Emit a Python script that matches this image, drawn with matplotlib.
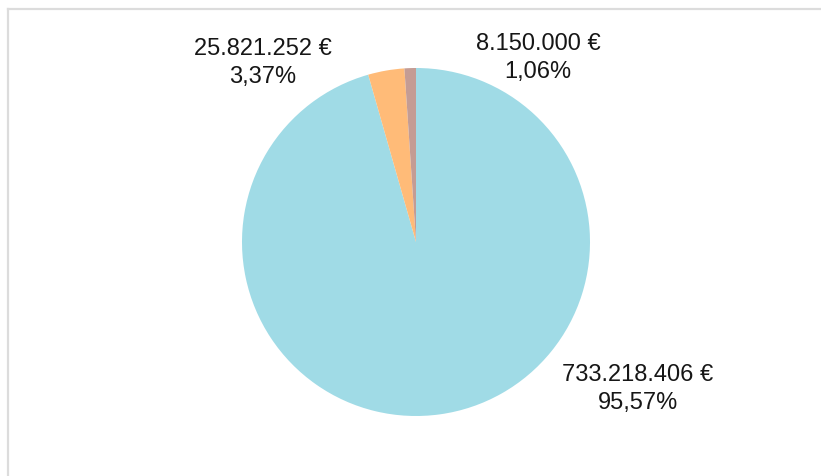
import matplotlib
matplotlib.use("Agg")
from matplotlib import pyplot as plt
from matplotlib.lines import Line2D

# data
amounts = [733218406, 25821252, 8150000]
amountLabels = ["733.218.406 €", "25.821.252 €", "8.150.000 €"]
percentLabels = ["95,57%", "3,37%", "1,06%"]
colors = ["#a0dbe6", "#ffbb78", "#c49c94"]

W, H = 821, 476  # figure size in px

plt.rcParams["font.family"] = ["Liberation Sans", "DejaVu Sans"]

fig = plt.figure(figsize=(W / 100, H / 100), dpi=100)
ax = fig.add_axes([0, 0, 1, 1])

# pie, clockwise from 12 o'clock
cx, cy, r = 416, H - 242, 174
ax.pie(amounts, colors=colors, startangle=90, counterclock=False,
       center=(cx, cy), radius=r, frame=True,
       wedgeprops={"linewidth": 0})
ax.set_xlim(0, W)
ax.set_ylim(0, H)
ax.set_aspect("equal")
ax.axis("off")

# labels (pixel positions from top-left)
labelPos = [(638, 389), (263, 63), (538, 58)]
for (x, y), a, p in zip(labelPos, amountLabels, percentLabels):
    ax.text(x, H - y, a + "\n" + p, ha="center", va="center",
            fontsize=17, color="#161616", linespacing=1.3)

# light frame on the left and top
fig.add_artist(Line2D([8 / W, 8 / W], [0, 1 - 9 / H], transform=fig.transFigure,
                      color="#dcdcdc", linewidth=1.6))
fig.add_artist(Line2D([8 / W, 1], [1 - 9 / H, 1 - 9 / H], transform=fig.transFigure,
                      color="#dcdcdc", linewidth=1.6))

fig.savefig("out.png", dpi=100)
